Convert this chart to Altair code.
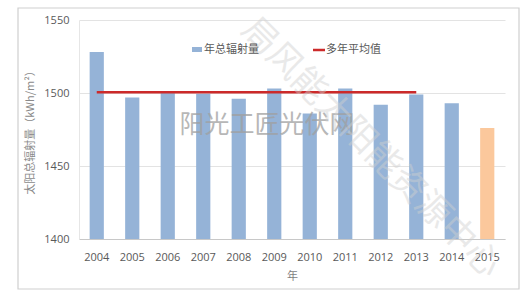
import altair as alt
import pandas as pd

years = ["2004", "2005", "2006", "2007", "2008", "2009", "2010", "2011", "2012", "2013", "2014", "2015"]
radiation = [1528, 1497, 1500, 1499.5, 1496, 1503, 1486, 1503, 1492, 1499, 1493, 1476]
kinds = ["obs"] * 11 + ["pred"]
avg_years = years[:10]
avg_value = 1500.5

bar_df = pd.DataFrame({"year": years, "value": radiation, "kind": kinds})
avg_df = pd.DataFrame({"year": avg_years, "value": [avg_value] * len(avg_years)})

FONT = "Noto Sans CJK SC"
xscale = alt.Scale(domain=years, paddingInner=0.6, paddingOuter=0.3)
yscale = alt.Scale(domain=[1400, 1550], nice=False, zero=False)

x_enc = alt.X("year:N", scale=xscale, sort=years,
              axis=alt.Axis(title="年", labelAngle=0, ticks=False, domainColor="#c8c8c8",
                            labelFont="Open Sans", labelFontSize=11, labelColor="#595959",
                            labelPadding=12, titleFont=FONT, titleFontSize=11,
                            titleColor="#7f7f7f", titleFontWeight="normal", titlePadding=8))
y_enc = alt.Y("value:Q", scale=yscale,
              axis=alt.Axis(title="太阳总辐射量（kWh/m²）", values=[1400, 1450, 1500, 1550],
                            format="d", ticks=False, domainColor="#e6e6e6", gridColor="#e3e3e3",
                            labelFont="Open Sans", labelFontSize=11, labelColor="#595959",
                            labelPadding=10, titleFont=FONT, titleFontSize=11,
                            titleColor="#8a8a8a", titleFontWeight="normal", titlePadding=8))

frame = alt.Chart(alt.Data(values=[{}])).mark_rect(
    fill=None, stroke="#cfcfcf", strokeWidth=1.2
).encode(x=alt.value(-61), x2=alt.value(440), y=alt.value(-12), y2=alt.value(269))

bars = alt.Chart(bar_df).mark_bar(clip=True).encode(
    x=x_enc, y=y_enc, y2=alt.Y2(datum=1400),
    color=alt.Color("kind:N", scale=alt.Scale(domain=["obs", "pred"], range=["#95b3d7", "#fbc89c"]),
                    legend=None),
)

line = alt.Chart(avg_df).mark_line(color="#cc2a2a", strokeWidth=2.6).encode(
    x=alt.X("year:N", scale=xscale, sort=years), y=alt.Y("value:Q", scale=yscale)
)

wm1 = alt.Chart(alt.Data(values=[{"t": "阳光工匠光伏网"}])).mark_text(
    font=FONT, fontSize=25, color="#a0a0a0", opacity=0.75, align="center", baseline="middle"
).encode(x=alt.value(188), y=alt.value(105), text="t:N")

wm2 = alt.Chart(alt.Data(values=[{"t": "局风能太阳能资源中心"}])).mark_text(
    font=FONT, fontSize=35, color="#d0d0d0", opacity=0.45, angle=45, align="center",
    baseline="middle"
).encode(x=alt.value(292), y=alt.value(128), text="t:N")

leg_sq = alt.Chart(alt.Data(values=[{}])).mark_rect(color="#95b3d7").encode(
    x=alt.value(113), x2=alt.value(123), y=alt.value(27), y2=alt.value(32))
leg_t1 = alt.Chart(alt.Data(values=[{"t": "年总辐射量"}])).mark_text(
    font=FONT, fontSize=11, color="#595959", align="left", baseline="middle"
).encode(x=alt.value(125), y=alt.value(30), text="t:N")
leg_ln = alt.Chart(alt.Data(values=[{}])).mark_rule(color="#cc2a2a", strokeWidth=2.5).encode(
    x=alt.value(234), x2=alt.value(246), y=alt.value(30))
leg_t2 = alt.Chart(alt.Data(values=[{"t": "多年平均值"}])).mark_text(
    font=FONT, fontSize=11, color="#595959", align="left", baseline="middle"
).encode(x=alt.value(247), y=alt.value(30), text="t:N")

chart = alt.layer(frame, bars, line, wm1, wm2, leg_sq, leg_t1, leg_ln, leg_t2).properties(
    width=426, height=219,
    autosize=alt.AutoSizeParams(type="none"),
    padding={"left": 79, "top": 20, "right": 25, "bottom": 57},
    background="white",
).configure_view(stroke=None)

chart.save("out.html", embed_options={"renderer": "svg", "actions": False})
